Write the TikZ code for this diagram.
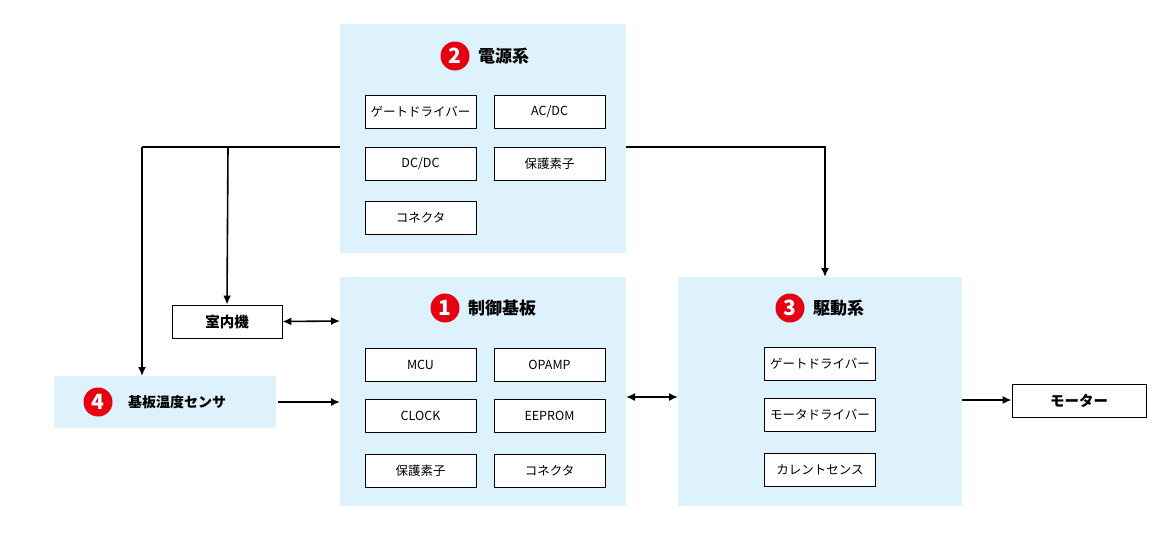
\documentclass[tikz,border=0pt]{standalone}
\usepackage{fontspec}
\setmainfont{Noto Sans CJK JP}
\usetikzlibrary{positioning,arrows.meta}
\definecolor{blockbg}{HTML}{DDF2FC}
\definecolor{numred}{HTML}{E60012}
\begin{document}
\begin{tikzpicture}[x=1pt, y=-1pt,
	block/.style={fill=blockbg, draw=none, inner sep=0pt},
	part/.style={draw, line width=0.9pt, fill=white, minimum width=111pt, minimum height=33pt, inner sep=0pt, font=\fontsize{12.5}{12.5}\selectfont},
	num/.style={circle, fill=numred, text=white, minimum size=29pt, inner sep=0pt, font=\fontsize{21}{21}\selectfont\bfseries},
	title/.style={font=\fontsize{17}{17}\selectfont\bfseries, anchor=west},
	arrow/.style={line width=1.6pt, -{Latex[length=9pt,width=8pt]}},
	darrow/.style={line width=1.6pt, {Latex[length=9pt,width=8pt]}-{Latex[length=9pt,width=8pt]}}
	]
	\useasboundingbox (0,0) rectangle (1170,550);

	% 電源系
	\path[block] (340,24) rectangle (626,253);
	\coordinate (PW) at (340,147);
	\coordinate (PE) at (626,147);
	\node[num] (n2) at (455,56) {2};
	\node[title, right=5pt of n2] (t2) {電源系};
	\node[part] (p1) at (420.5,111.5) {ゲートドライバー};
	\node[part] (p2) at (549.5,111.5) {AC/DC};
	\node[part] (p3) at (420.5,163.5) {DC/DC};
	\node[part] (p4) at (549.5,163.5) {保護素子};
	\node[part] (p5) at (420.5,217.5) {コネクタ};

	% 制御基板
	\path[block] (340,277) rectangle (626,506);
	\coordinate (CW1) at (340,321);
	\coordinate (CW2) at (340,402);
	\coordinate (CE) at (626,397);
	\node[num] (n1) at (445,308) {1};
	\node[title, right=5pt of n1] (t1) {制御基板};
	\node[part] (c1) at (420.5,364.5) {MCU};
	\node[part] (c2) at (549.5,364.5) {OPAMP};
	\node[part] (c3) at (420.5,415.5) {CLOCK};
	\node[part] (c4) at (549.5,415.5) {EEPROM};
	\node[part] (c5) at (420.5,470.5) {保護素子};
	\node[part] (c6) at (549.5,470.5) {コネクタ};

	% 駆動系
	\path[block] (678,277) rectangle (962,506);
	\coordinate (DW) at (678,397);
	\coordinate (DT) at (825,277);
	\coordinate (DE) at (962,400);
	\node[num] (n3) at (790,308) {3};
	\node[title, right=5pt of n3] (t3) {駆動系};
	\node[part] (d1) at (820,363.5) {ゲートドライバー};
	\node[part] (d2) at (820,414.5) {モータドライバー};
	\node[part] (d3) at (820,469.5) {カレントセンス};

	% 基板温度センサ
	\path[block] (54,376) rectangle (276,428);
	\coordinate (ST) at (142,376);
	\coordinate (SE) at (278,402);
	\node[num] (n4) at (98,402) {4};
	\node[title, font=\fontsize{14}{14}\selectfont\bfseries, right=12pt of n4] (t4) {基板温度センサ};

	% 室内機, モーター
	\node[part, minimum width=110pt, font=\fontsize{14.5}{14.5}\selectfont\bfseries] (indoor) at (227,321.5) {室内機};
	\node[part, minimum width=134pt, font=\fontsize{14.5}{14.5}\selectfont\bfseries] (motor) at (1079,400.5) {モーター};

	% connectors
	\coordinate (L) at (142,147);
	\coordinate (M) at (228,147);
	\coordinate (R) at (825,147);
	\draw[line width=1.6pt] (PW) -- (L);
	\draw[arrow] (L) -- (ST);
	\draw[arrow] (M) -- (indoor.north);
	\draw[arrow] (PE) -- (R) -- (DT);
	\draw[darrow] (indoor.east) -- (CW1);
	\draw[arrow] (SE) -- (CW2);
	\draw[darrow] (CE) -- (DW);
	\draw[arrow] (DE) -- (motor.west |- DE);
\end{tikzpicture}
\end{document}
